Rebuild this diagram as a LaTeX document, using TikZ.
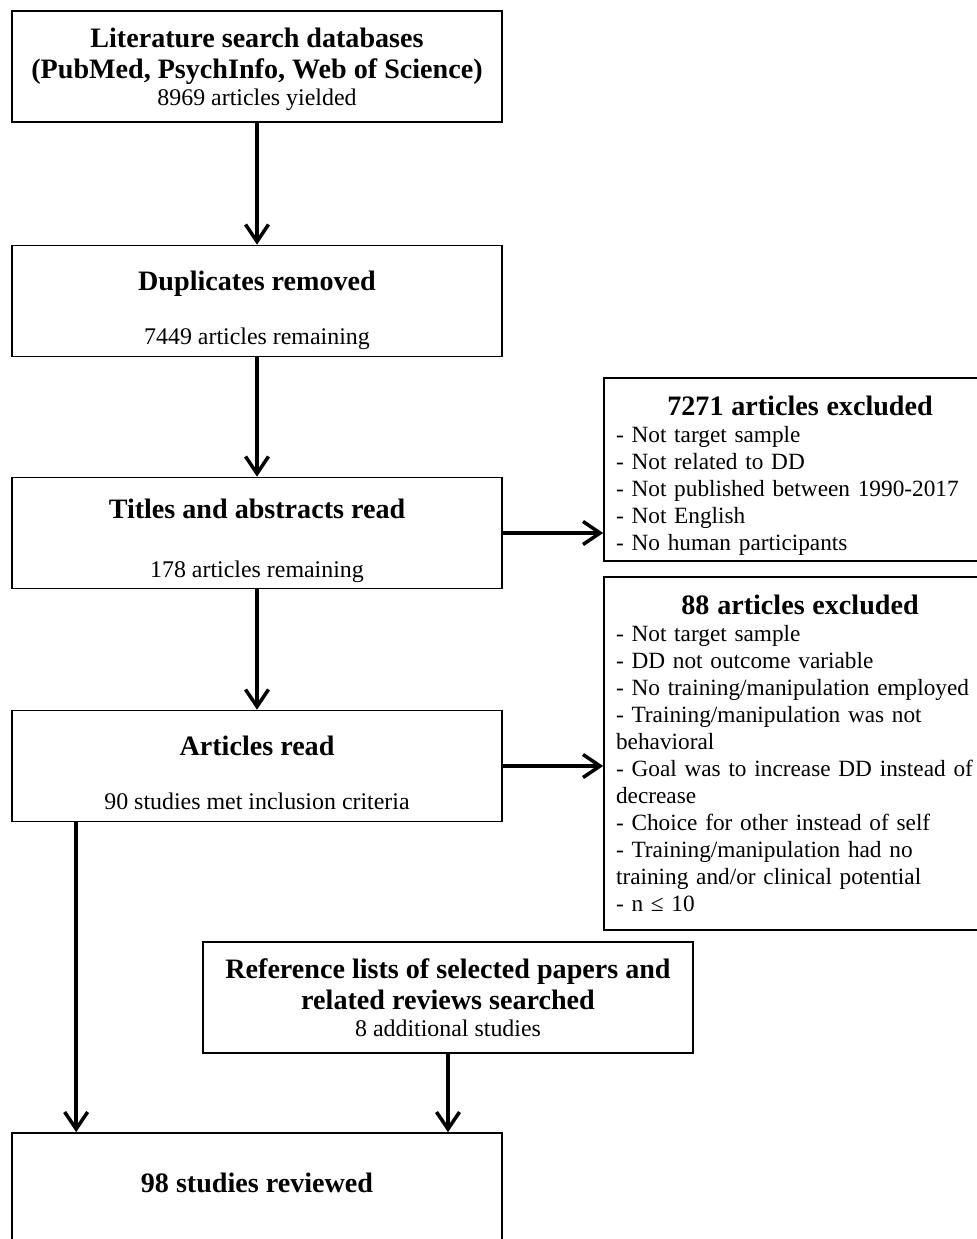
\documentclass[tikz,border=0pt]{standalone}
\usepackage{fontspec}
\setmainfont{Liberation Serif}
\usepackage{tikz}
\usetikzlibrary{arrows.meta,positioning}
\newcommand{\hd}[1]{{\fontsize{16}{17.8}\selectfont\bfseries #1}}
\newcommand{\tp}[1]{\rule{0pt}{#1}}
\tikzset{
  ar/.style={-{Straight Barb[length=3.4mm,width=4.6mm]},line width=2pt},
  box/.style={draw,line width=1pt,minimum width=9.8cm,minimum height=2.22cm,align=center,inner sep=0pt,font=\fontsize{13.6}{15.5}\selectfont},
  exbox/.style={draw,line width=1pt,text width=7.36cm,inner xsep=0.24cm,inner ysep=0pt,align=left,font=\fontsize{13.25}{15.4}\selectfont}
}
\begin{document}
\begin{tikzpicture}[x=0.02cm,y=-0.02cm]
\useasboundingbox (0,0) rectangle (976,1239);
% main column
\node[box] (srch) at (257,66.5) {\tp{0.5cm}\hd{Literature search databases}\\[2.3pt] \hd{(PubMed, PsychInfo, Web of Science)}\\ 8969 articles yielded};
\node[box] (dupl) at (257,301) {\tp{0.77cm}\hd{Duplicates removed}\\[15pt] 7449 articles remaining};
\node[box] (titl) at (257,533) {\tp{0.7cm}\hd{Titles and abstracts read}\\[18pt] 178 articles remaining};
\node[box] (full) at (257,766) {\tp{0.66cm}\hd{Articles read}\\[15pt] 90 studies met inclusion criteria};
\node[box] (refs) at (448,997.5) {\hd{Reference lists of selected papers and}\\[2.3pt] \hd{related reviews searched}\\ 8 additional studies};
\node[box,minimum height=2.24cm] (final) at (257,1189) {\rule[-0.24cm]{0pt}{0pt}\hd{98 studies reviewed}};
% exclusions
\node[exbox,minimum height=3.66cm] (exa) at (800,469.5) {{\centering\tp{0.64cm}\hd{7271 articles excluded}\par}
- Not target sample\\
- Not related to DD\\
- Not published between 1990-2017\\
- Not English\\
- No human participants};
\node[exbox,minimum height=7.06cm] (exb) at (800,753.5) {{\centering\hd{88 articles excluded}\par}
- Not target sample\\
- DD not outcome variable\\
- No training/manipulation employed\\
- Training/manipulation was not\\
behavioral\\
- Goal was to increase DD instead of\\
decrease\\
- Choice for other instead of self\\
- Training/manipulation had no\\
training and/or clinical potential\\
- n ≤ 10};
% connectors
\draw[ar] (srch) -- (dupl);
\draw[ar] (dupl) -- (titl);
\draw[ar] (titl) -- (full);
\draw[ar] (titl.east) -- (titl.east -| exa.west);
\draw[ar] (full.east) -- (full.east -| exb.west);
\draw[ar] ([xshift=1.3cm]full.south west) -- ([xshift=1.3cm]final.north west);
\draw[ar] (refs.south) -- (refs.south |- final.north);
\end{tikzpicture}
\end{document}
